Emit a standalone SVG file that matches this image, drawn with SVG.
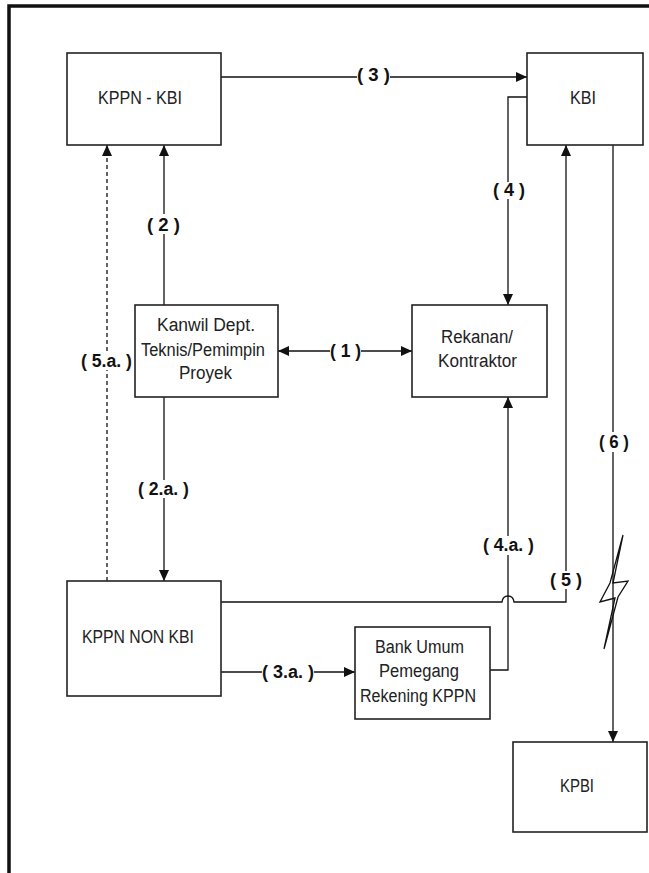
<svg xmlns="http://www.w3.org/2000/svg" width="649" height="873" viewBox="0 0 649 873">
<style>
.box{fill:#fff;stroke:#222;stroke-width:1.6}
.t{font-family:"Liberation Sans",Arial,sans-serif;font-size:18px;fill:#222;text-anchor:middle}
.lb{font-family:"Liberation Sans",Arial,sans-serif;font-size:17.5px;font-weight:bold;fill:#111;text-anchor:middle}
.c{fill:none;stroke:#111;stroke-width:1.3}
.d{stroke-dasharray:4 3}
</style>
<defs>
<marker id="ah" markerUnits="userSpaceOnUse" markerWidth="11" markerHeight="10" refX="11" refY="5" orient="auto-start-reverse">
<path d="M0,0 L11,5 L0,10 z" fill="#111"/>
</marker>
</defs>
<rect x="9" y="6" width="720" height="920" fill="none" stroke="#111" stroke-width="3.5"/>
<g id="connectors">
<path class="c" d="M221,77 H357"/><path class="c" d="M390,77 H527" marker-end="url(#ah)"/>
<path class="c" d="M527,97 H508 V182"/><path class="c" d="M508,199 V305" marker-end="url(#ah)"/>
<path class="c" d="M164,305 V234"/><path class="c" d="M164,214 V145" marker-end="url(#ah)"/>
<path class="c d" d="M107,581 V370"/><path class="c d" d="M107,351 V145" marker-end="url(#ah)"/>
<path class="c" d="M330,351 H278" marker-end="url(#ah)"/><path class="c" d="M361,351 H412" marker-end="url(#ah)"/>
<path class="c" d="M164,397 V480"/><path class="c" d="M164,498 V581" marker-end="url(#ah)"/>
<path class="c" d="M221,602 H502 C503,594 513,594 514,602 H566 V589"/><path class="c" d="M566,571 V145" marker-end="url(#ah)"/>
<path class="c" d="M221,672 H262"/><path class="c" d="M314,672 H355" marker-end="url(#ah)"/>
<path class="c" d="M490,670 H508 V555"/><path class="c" d="M508,536 V397" marker-end="url(#ah)"/>
<path class="c" d="M613,145 V432"/><path class="c" d="M613,452 V742" marker-end="url(#ah)"/>
<polygon class="c" points="623,535 610,583 600,602 615,598 604,649 618,597 628,581 613,583"/>
<text class="lb" x="373.5" y="81" textLength="33" lengthAdjust="spacingAndGlyphs">( 3 )</text>
<text class="lb" x="509" y="196" textLength="32" lengthAdjust="spacingAndGlyphs">( 4 )</text>
<text class="lb" x="163.5" y="231" textLength="33" lengthAdjust="spacingAndGlyphs">( 2 )</text>
<text class="lb" x="345.5" y="357" textLength="31" lengthAdjust="spacingAndGlyphs">( 1 )</text>
<text class="lb" x="106.5" y="367" textLength="51" lengthAdjust="spacingAndGlyphs">( 5.a. )</text>
<text class="lb" x="614" y="448" textLength="30" lengthAdjust="spacingAndGlyphs">( 6 )</text>
<text class="lb" x="163.5" y="495" textLength="51" lengthAdjust="spacingAndGlyphs">( 2.a. )</text>
<text class="lb" x="508.5" y="551" textLength="51" lengthAdjust="spacingAndGlyphs">( 4.a. )</text>
<text class="lb" x="566" y="586" textLength="32" lengthAdjust="spacingAndGlyphs">( 5 )</text>
<text class="lb" x="288" y="678" textLength="52" lengthAdjust="spacingAndGlyphs">( 3.a. )</text>
</g>
<g id="kppn-kbi"><rect class="box" x="67" y="53" width="154" height="92"/>
<text class="t" x="140" y="104" textLength="84" lengthAdjust="spacingAndGlyphs">KPPN - KBI</text></g>
<g id="kbi"><rect class="box" x="527" y="53" width="116" height="92"/>
<text class="t" x="583" y="104" textLength="26" lengthAdjust="spacingAndGlyphs">KBI</text></g>
<g id="kanwil"><rect class="box" x="135" y="305" width="143" height="92"/>
<text class="t" x="206" y="331" textLength="98" lengthAdjust="spacingAndGlyphs">Kanwil Dept.</text>
<text class="t" x="203" y="356" textLength="124" lengthAdjust="spacingAndGlyphs">Teknis/Pemimpin</text>
<text class="t" x="205.5" y="379" textLength="53" lengthAdjust="spacingAndGlyphs">Proyek</text></g>
<g id="rekanan"><rect class="box" x="412" y="305" width="135" height="92"/>
<text class="t" x="477" y="343" textLength="72" lengthAdjust="spacingAndGlyphs">Rekanan/</text>
<text class="t" x="477.5" y="367" textLength="79" lengthAdjust="spacingAndGlyphs">Kontraktor</text></g>
<g id="kppn-non-kbi"><rect class="box" x="67" y="581" width="154" height="115"/>
<text class="t" x="138" y="643" textLength="112" lengthAdjust="spacingAndGlyphs">KPPN NON KBI</text></g>
<g id="bank"><rect class="box" x="355" y="627" width="135" height="92"/>
<text class="t" x="419.5" y="653" textLength="89" lengthAdjust="spacingAndGlyphs">Bank Umum</text>
<text class="t" x="419" y="677" textLength="80" lengthAdjust="spacingAndGlyphs">Pemegang</text>
<text class="t" x="418" y="702" textLength="116" lengthAdjust="spacingAndGlyphs">Rekening KPPN</text></g>
<g id="kpbi"><rect class="box" x="513" y="742" width="134" height="90"/>
<text class="t" x="577" y="792" textLength="34" lengthAdjust="spacingAndGlyphs">KPBI</text></g>
</svg>
